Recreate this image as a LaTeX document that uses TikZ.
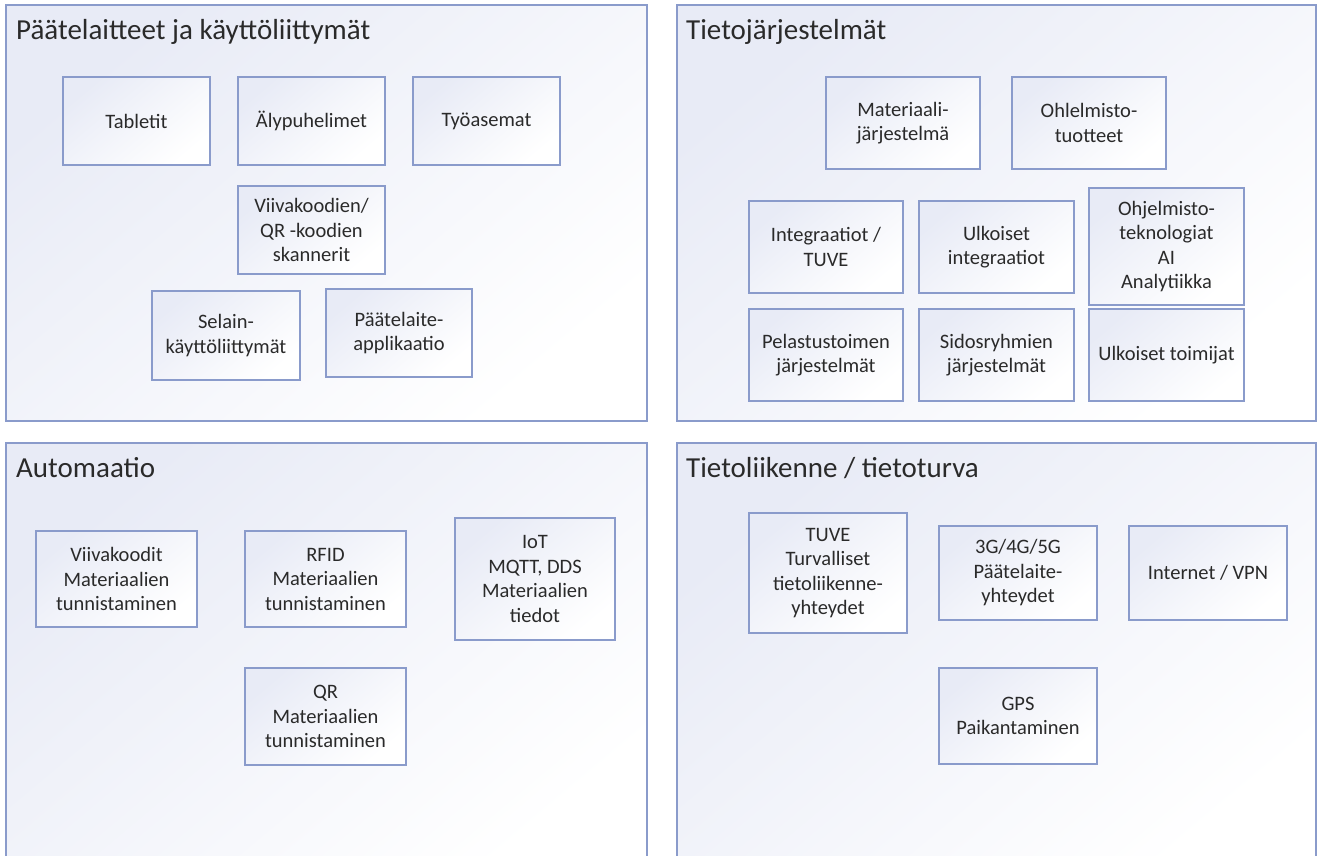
\documentclass[tikz,border=0pt]{standalone}
\usepackage{fontspec}
\setmainfont{Carlito}
\definecolor{bord}{HTML}{8A9BCB}
\definecolor{panelA}{HTML}{E8EBF6}
\definecolor{boxA}{HTML}{E8EBF6}
\definecolor{txt}{HTML}{2A2A2A}
\tikzset{
  panel/.style={draw=bord, line width=1.3pt, top color=panelA, bottom color=white, shading angle=40},
  bx/.style={draw=bord, line width=1.3pt, top color=boxA, bottom color=white, shading angle=40,
    align=center, font=\fontsize{20.5}{24.5}\selectfont, text=txt, inner sep=0pt},
  ptitle/.style={anchor=base west, font=\fontsize{29}{34}\selectfont, text=txt, inner sep=0pt}
}
\newcommand{\mybox}[6]{%
  \node[bx, minimum width={(#4-#2)*1pt}, minimum height={(#5-#3)*1pt}] (#1) at ({(#2+#4)/2},{(#3+#5)/2}) {#6};}
\begin{document}
\begin{tikzpicture}[x=1pt,y=-1pt]
\clip (0,0) rectangle (1320,855);
\fill[white] (0,0) rectangle (1320,855);
% panels
\shade[panel] (6,5) rectangle (647,421);
\shade[panel] (677,5) rectangle (1316,421);
\shade[panel] (6,443) rectangle (647,880);
\shade[panel] (677,443) rectangle (1316,880);
\node[ptitle] (t1) at (16,39) {Päätelaitteet ja käyttöliittymät};
\node[ptitle] (t2) at (686,39) {Tietojärjestelmät};
\node[ptitle] (t3) at (16,477) {Automaatio};
\node[ptitle] (t4) at (686,477) {Tietoliikenne / tietoturva};
% top-left
\mybox{tab}{63}{77}{210}{165}{Tabletit}
\mybox{aly}{238}{77}{385}{165}{Älypuhelimet}
\mybox{tyo}{413}{77}{560}{165}{Työasemat}
\mybox{skan}{238}{186}{385}{274}{Viivakoodien/\\QR -koodien\\skannerit}
\mybox{sel}{152}{291}{300}{380}{Selain-\\käyttöliittymät}
\mybox{app}{326}{289}{472}{377}{Päätelaite-\\applikaatio}
% top-right
\mybox{mat}{826}{77}{980}{169}{Materiaali-\\järjestelmä}
\mybox{ohl}{1012}{77}{1166}{169}{Ohlelmisto-\\tuotteet}
\mybox{int}{749}{201}{903}{293}{Integraatiot /\\TUVE}
\mybox{ulk}{919}{201}{1074}{293}{Ulkoiset\\integraatiot}
\mybox{tek}{1089}{188}{1244}{305}{Ohjelmisto-\\teknologiat\\AI\\Analytiikka}
\mybox{pel}{749}{309}{903}{401}{Pelastustoimen\\järjestelmät}
\mybox{sid}{919}{309}{1074}{401}{Sidosryhmien\\järjestelmät}
\mybox{toi}{1089}{309}{1244}{401}{Ulkoiset toimijat}
% bottom-left
\mybox{viv}{36}{531}{197}{627}{Viivakoodit\\Materiaalien\\tunnistaminen}
\mybox{rfid}{245}{531}{406}{627}{RFID\\Materiaalien\\tunnistaminen}
\mybox{iot}{455}{518}{615}{640}{IoT\\MQTT, DDS\\Materiaalien\\tiedot}
\mybox{qr}{245}{668}{406}{765}{QR\\Materiaalien\\tunnistaminen}
% bottom-right
\mybox{tuve}{749}{513}{907}{633}{TUVE\\Turvalliset\\tietoliikenne-\\yhteydet}
\mybox{g5}{939}{526}{1097}{620}{3G/4G/5G\\Päätelaite-\\yhteydet}
\mybox{vpn}{1129}{526}{1287}{620}{Internet / VPN}
\mybox{gps}{939}{668}{1097}{764}{GPS\\Paikantaminen}
\end{tikzpicture}
\end{document}
